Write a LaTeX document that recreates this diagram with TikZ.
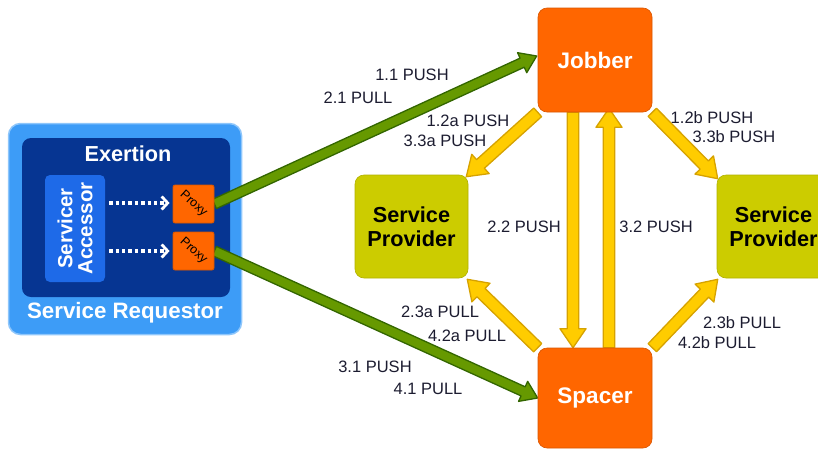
\documentclass[tikz,border=0pt]{standalone}
\usepackage{fontspec}
\setmainfont{Liberation Sans}
\usetikzlibrary{calc,arrows.meta}
\definecolor{reqblue}{HTML}{3D9CF7}
\definecolor{reqbluelt}{HTML}{8EC6FB}
\definecolor{exblue}{HTML}{063592}
\definecolor{accblue}{HTML}{1E6AE8}
\definecolor{boxorange}{HTML}{FF6600}
\definecolor{boxorangedk}{HTML}{D85500}
\definecolor{spyellow}{HTML}{CCCC00}
\definecolor{spyellowdk}{HTML}{B0B000}
\definecolor{ayfill}{HTML}{FFCC00}
\definecolor{ayline}{HTML}{D6A200}
\definecolor{agfill}{HTML}{669900}
\definecolor{agline}{HTML}{336600}
\definecolor{labtext}{HTML}{1C1C30}
\pgfdeclarelayer{bg}
\pgfdeclarelayer{mid}
\pgfsetlayers{bg,mid,main}
\newcommand{\fatarrow}[6]{%
\path[#6] let \p1=(#1), \p2=(#2), \n1={atan2(\y2-\y1,\x2-\x1)}, \n2={veclen(\x2-\x1,\y2-\y1)-#5} in
 ($(\p1)+(\n1+90:#3pt)$) -- ($(\p1)+(\n1:\n2)+(\n1+90:#3pt)$) -- ($(\p1)+(\n1:\n2)+(\n1+90:#4pt)$) -- (\p2)
 -- ($(\p1)+(\n1:\n2)+(\n1-90:#4pt)$) -- ($(\p1)+(\n1:\n2)+(\n1-90:#3pt)$) -- ($(\p1)+(\n1-90:#3pt)$) -- cycle;}
\begin{document}
\begin{tikzpicture}[x=1pt,y=-1pt,
  bigbox/.style={rectangle, rounded corners=9pt, inner sep=0pt, align=center,
     font=\fontsize{22.5}{24}\selectfont\bfseries},
  orangebox/.style={bigbox, fill=boxorange, draw=boxorangedk, line width=0.6pt, text=white},
  provbox/.style={bigbox, fill=spyellow, draw=spyellowdk, line width=0.6pt, text=black,
     minimum width=113pt, minimum height=103pt, font=\fontsize{21.7}{24.5}\selectfont\bfseries},
  proxybox/.style={rectangle, rounded corners=2pt, fill=boxorange, draw=boxorangedk, line width=0.8pt,
     minimum width=41pt, minimum height=38pt, inner sep=0pt},
  proxytext/.style={rotate=-42, font=\fontsize{12.5}{13}\selectfont, text=black, inner sep=0pt},
  lab/.style={font=\fontsize{16.5}{18}\selectfont, text=labtext, inner sep=0pt},
  yarrow/.style={fill=ayfill, draw=ayline, line width=1.3pt, line join=round},
  garrow/.style={fill=agfill, draw=agline, line width=1.3pt, line join=round},
  dotarrow/.style={draw=white, line width=3.4pt, dash pattern=on 3.4pt off 3pt,
     -{Straight Barb[length=6pt,width=13pt,line width=2.8pt]}}]
\clip (0,0) rectangle (818,450);
\useasboundingbox (0,0) rectangle (818,450);

% Service requestor
\begin{pgfonlayer}{bg}
\node[rectangle, rounded corners=12pt, fill=reqblue, draw=reqbluelt, line width=1.5pt,
  minimum width=233pt, minimum height=211pt, inner sep=0pt] (req) at (125,229) {};
\node[rectangle, rounded corners=9pt, fill=exblue, minimum width=208pt, minimum height=159pt, inner sep=0pt]
  (ex) at (126,217.5) {};
\end{pgfonlayer}
\node[font=\fontsize{21.7}{22}\selectfont\bfseries, text=white, inner sep=0pt] (extxt) at (128,154) {Exertion};
\node[font=\fontsize{22.3}{22}\selectfont\bfseries, text=white, inner sep=0pt] (reqtxt) at (125,313) {Service Requestor};
\node[rectangle, rounded corners=5pt, fill=accblue, minimum width=60pt, minimum height=107pt, inner sep=0pt]
  (acc) at (75,228.5) {};
\node[rotate=90, font=\fontsize{20.5}{20}\selectfont\bfseries, text=white, align=center, inner sep=0pt]
  (acctxt) at (acc.center) {Servicer\\Accessor};
\node[proxybox] (proxy1) at (193.5,204) {};
\node[proxytext] (ptxt1) at (proxy1.center) {Proxy};
\node[proxybox] (proxy2) at (193.5,251) {};
\node[proxytext] (ptxt2) at (proxy2.center) {Proxy};
\draw[dotarrow] ($(acc.east|-proxy1.west)+(4,-1)$) -- ($(proxy1.west)+(-3,-1)$);
\draw[dotarrow] ($(acc.east|-proxy2.west)+(4,0)$) -- ($(proxy2.west)+(-3,0)$);

% main boxes
\node[orangebox, minimum width=114pt, minimum height=104pt] (jobber) at (595,60) {Jobber};
\node[orangebox, minimum width=114pt, minimum height=100pt] (spacer) at (595,398) {Spacer};
\node[provbox] (spL) at (411.5,226.5) {Service\\Provider};
\node[provbox] (spR) at (773.5,226.5) {Service\\Provider};

% arrows
\begin{pgfonlayer}{mid}
\fatarrow{proxy1.east}{$(jobber.west)+(-1,-4)$}{5}{11}{16}{garrow}
\fatarrow{proxy2.east}{spacer.west}{5}{11}{16}{garrow}
\fatarrow{jobber.south west}{$(spL.north east)+(-2,2)$}{5.8}{13}{19}{yarrow}
\fatarrow{jobber.south east}{$(spR.north west)+(1,4)$}{5.8}{13}{19}{yarrow}
\fatarrow{$(jobber.south)+(-22,0)$}{$(spacer.north)+(-22,0)$}{5.8}{13}{19}{yarrow}
\fatarrow{$(spacer.north)+(14,0)$}{$(jobber.south)+(14,-4)$}{5.8}{13}{19}{yarrow}
\fatarrow{spacer.north west}{$(spL.south east)+(-1,1)$}{5.8}{13}{19}{yarrow}
\fatarrow{spacer.north east}{$(spR.south west)+(1,1)$}{5.8}{13}{19}{yarrow}
\end{pgfonlayer}

% labels
\node[lab] (l11) at (412,75) {1.1 PUSH};
\node[lab] (l21) at (358,98) {2.1 PULL};
\node[lab] (l12a) at (468,121) {1.2a PUSH};
\node[lab] (l33a) at (445,141) {3.3a PUSH};
\node[lab] (l12b) at (712,118) {1.2b PUSH};
\node[lab] (l33b) at (734,137) {3.3b PUSH};
\node[lab] (l22) at (524,227) {2.2 PUSH};
\node[lab] (l32) at (656,227) {3.2 PUSH};
\node[lab] (l23a) at (440,312) {2.3a PULL};
\node[lab] (l42a) at (467,336) {4.2a PULL};
\node[lab] (l31) at (375,367) {3.1 PUSH};
\node[lab] (l41) at (428,389) {4.1 PULL};
\node[lab] (l23b) at (742,323) {2.3b PULL};
\node[lab] (l42b) at (717,343) {4.2b PULL};
\end{tikzpicture}
\end{document}
